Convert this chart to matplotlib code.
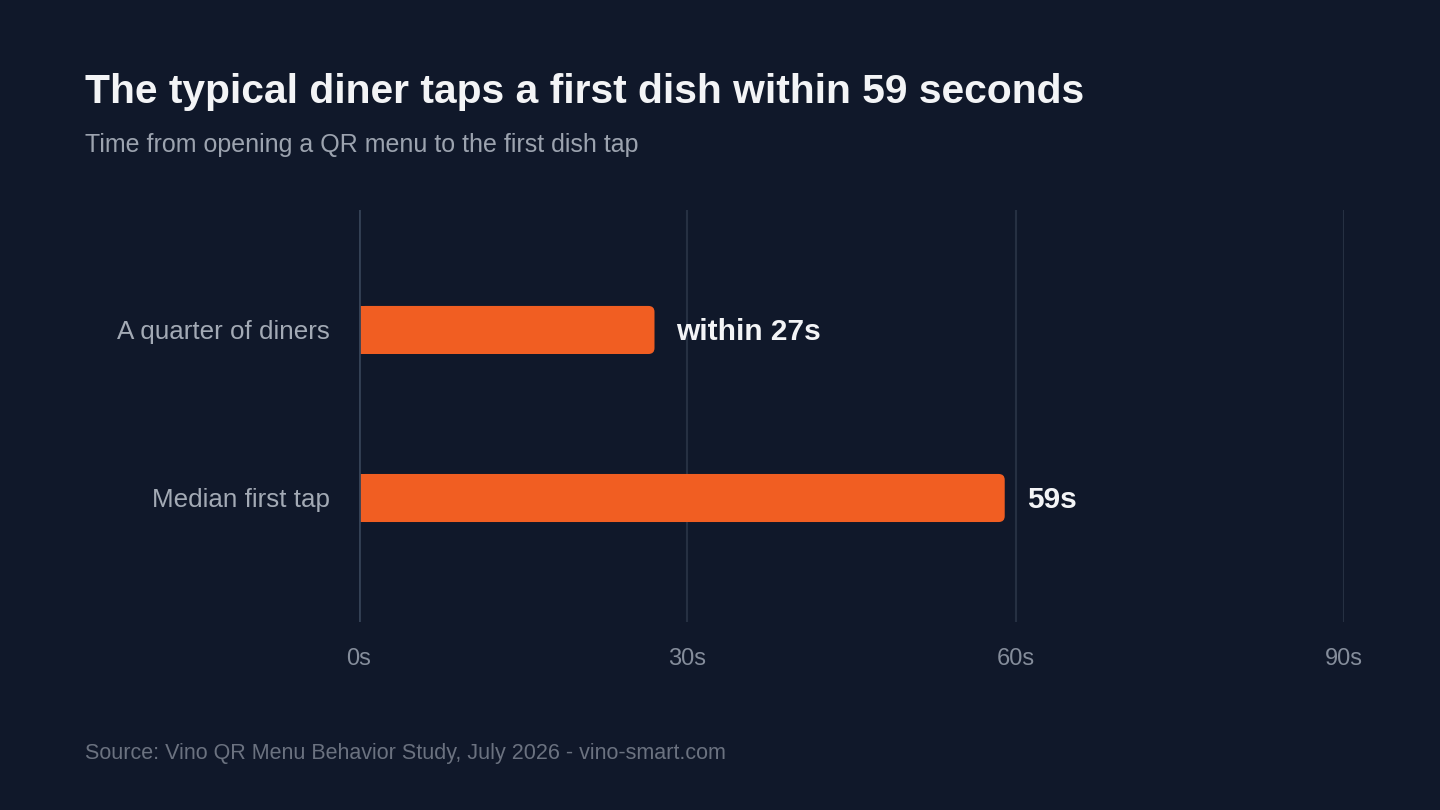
import matplotlib.pyplot as plt
from matplotlib.patches import FancyBboxPatch, Rectangle

categories = ["A quarter of diners", "Median first tap"]
values = [27, 59]
value_labels = ["within 27s", "59s"]
xticks = [0, 30, 60, 90]
xtick_labels = ["0s", "30s", "60s", "90s"]

BG = "#10182a"
BAR = "#f15e22"

plt.rcParams['font.family'] = ['Liberation Sans', 'DejaVu Sans']

fig = plt.figure(figsize=(14.4, 8.1), dpi=100, facecolor=BG)
ax = fig.add_axes([359 / 1440, 1 - 622 / 810, 985 / 1440, 412 / 810])
ax.set_facecolor(BG)

ax.set_xlim(0, 90)
ax.set_ylim(1.738, -0.714)

# grid
for t in xticks[1:]:
    ax.axvline(t, color="#263042", lw=1.5, zorder=0)
ax.axvline(0, color="#344155", lw=2, zorder=3)

# px per unit for corner rounding
px_x = 985 / 90
px_y = 412 / 2.452
radius_px = 6
h = 0.286
for i, v in enumerate(values):
    rb = FancyBboxPatch((0, i - h / 2), v, h,
                        boxstyle=f"round,pad=0,rounding_size={radius_px / px_x}",
                        mutation_aspect=px_x / px_y,
                        fc=BAR, ec="none", zorder=2)
    ax.add_patch(rb)
    ax.add_patch(Rectangle((0, i - h / 2), v / 2, h, fc=BAR, ec="none", zorder=2))
    ax.text(v + 22 / px_x, i + 2 / px_y, value_labels[i], color="#f3f4f6", fontsize=21.5,
            fontweight="bold", va="center", ha="left")

ax.set_yticks(range(len(categories)))
ax.set_yticklabels(categories, color="#a3aab5", fontsize=18.7)
ax.set_xticks(xticks)
ax.set_xticklabels(xtick_labels, color="#858d9b", fontsize=17)
ax.tick_params(axis="y", length=0, pad=21)
ax.tick_params(axis="x", length=0, pad=19)
for s in ax.spines.values():
    s.set_visible(False)

fig.text(85 / 1440, 1 - 92 / 810, "The typical diner taps a first dish within 59 seconds",
         color="#f3f4f6", fontsize=29.3, fontweight="bold", va="center", ha="left")
fig.text(85 / 1440, 1 - 145 / 810, "Time from opening a QR menu to the first dish tap",
         color="#9ca3af", fontsize=18, va="center", ha="left")
fig.text(85 / 1440, 1 - 753 / 810, "Source: Vino QR Menu Behavior Study, July 2026 - vino-smart.com",
         color="#6b7280", fontsize=15.5, va="center", ha="left")

fig.savefig("out.png", dpi=100, facecolor=BG)
